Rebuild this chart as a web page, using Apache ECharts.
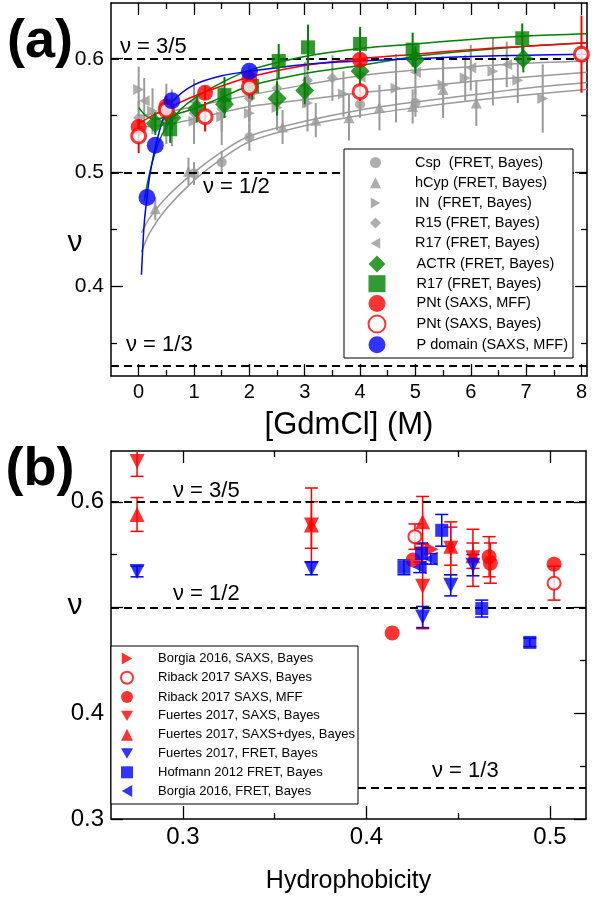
<!DOCTYPE html>
<html><head><meta charset="utf-8">
<script src="https://cdn.jsdelivr.net/npm/echarts@6/dist/echarts.min.js"></script>
<style>html,body{margin:0;padding:0;background:#fff}#c{width:594px;height:900px}</style>
</head><body><div id="c"></div><script>
// ================= Panel (a): [GdmCl] (M) vs nu =================
const aMajorX = [0,1,2,3,4,5,6,7,8];
const aMinorX = [0.5,1.5,2.5,3.5,4.5,5.5,6.5,7.5];
const aMajorY = [0.4,0.5,0.6];
const aMinorY = [0.35,0.45,0.55];
const refLevels = [0.6, 0.5, 1/3];

const cspX = [1.0, 1.5, 2.0, 4.0, 5.0];
const cspY = [0.499, 0.509, 0.531, 0.560, 0.561];
const cspE = [0.010, 0.010, 0.012, 0.012, 0.012];

const hcypX = [0.3, 0.9, 2.6, 3.2, 3.8, 4.35, 4.95, 5.5, 6.1];
const hcypY = [0.468, 0.501, 0.540, 0.546, 0.548, 0.557, 0.558, 0.573, 0.561];
const hcypE = [0.010, 0.012, 0.015, 0.015, 0.020, 0.020, 0.015, 0.025, 0.020];

const inX = [0.0, 0.25, 0.6, 1.0, 1.5, 2.0, 2.5, 3.05, 3.7, 4.65, 5.5, 5.9, 6.4, 6.85, 7.3];
const inY = [0.573, 0.554, 0.548, 0.545, 0.549, 0.552, 0.557, 0.561, 0.569, 0.574, 0.577, 0.583, 0.589, 0.581, 0.565];
const inE = [0.020, 0.020, 0.025, 0.020, 0.025, 0.020, 0.020, 0.025, 0.020, 0.030, 0.025, 0.020, 0.030, 0.020, 0.030];

const r15X = [0.0, 0.5, 1.0, 1.5, 2.0, 2.5, 3.05, 3.5, 4.0];
const r15Y = [0.548, 0.545, 0.552, 0.556, 0.565, 0.574, 0.581, 0.583, 0.586];
const r15E = [0.015, 0.020, 0.020, 0.020, 0.020, 0.020, 0.020, 0.020, 0.020];

const r17gX = [0.1, 0.5, 1.0, 2.0, 3.0, 4.0, 5.0, 6.0, 6.65];
const r17gY = [0.563, 0.558, 0.562, 0.569, 0.577, 0.584, 0.588, 0.592, 0.595];
const r17gE = [0.020, 0.020, 0.020, 0.025, 0.020, 0.020, 0.020, 0.020, 0.020];

const actrX = [0.3, 0.6, 1.05, 1.55, 2.5, 3.0, 4.0, 5.0, 6.95];
const actrY = [0.543, 0.548, 0.556, 0.560, 0.565, 0.572, 0.589, 0.599, 0.600];
const actrE = [0.010, 0.010, 0.012, 0.012, 0.015, 0.012, 0.012, 0.012, 0.012];

const r17X = [0.57, 1.55, 2.05, 2.53, 3.06, 4.0, 4.95, 6.93];
const r17Y = [0.538, 0.568, 0.576, 0.598, 0.610, 0.613, 0.608, 0.618];
const r17E = [0.012, 0.016, 0.012, 0.015, 0.020, 0.015, 0.015, 0.013];

const pntMX = [0.0, 0.5, 1.2, 2.0, 4.0];
const pntMY = [0.540, 0.558, 0.570, 0.582, 0.599];
const pntME = [0.006, 0.006, 0.006, 0.006, 0.006];

const pntBX = [0.0, 0.5, 1.2, 2.0, 4.0, 8.0];
const pntBY = [0.532, 0.555, 0.549, 0.575, 0.571, 0.604];
const pntBE = [0.015, 0.012, 0.013, 0.010, 0.008, 0.034];

const pdX = [0.15, 0.3, 0.6, 2.0];
const pdY = [0.478, 0.524, 0.563, 0.589];

// fit curves
const fitG1X = [0, 0.5, 1, 2, 3, 4, 5, 6, 7, 8.1];
const fitG1Y = [0.550, 0.553, 0.558, 0.568, 0.577, 0.585, 0.590, 0.593, 0.596, 0.598];
const fitG2X = [0, 0.5, 1, 2, 3, 4, 5, 6, 7, 8.1];
const fitG2Y = [0.540, 0.542, 0.547, 0.558, 0.564, 0.570, 0.575, 0.580, 0.584, 0.588];
const fitG3X = [0.05, 0.2, 0.5, 1, 1.5, 2, 3, 4, 5, 6, 7, 8.1];
const fitG3Y = [0.447, 0.460, 0.478, 0.500, 0.518, 0.532, 0.545, 0.555, 0.562, 0.568, 0.574, 0.579];
const fitG4X = [0.05, 0.2, 0.5, 1, 1.5, 2, 3, 4, 5, 6, 7, 8.1];
const fitG4Y = [0.430, 0.447, 0.468, 0.493, 0.512, 0.527, 0.541, 0.550, 0.557, 0.563, 0.568, 0.573];
const fitR17X = [0.1, 0.2, 0.35, 0.5, 0.75, 1, 1.5, 2, 3, 4, 5, 6, 7, 8.1];
const fitR17Y = [0.475, 0.500, 0.525, 0.540, 0.555, 0.565, 0.579, 0.590, 0.602, 0.609, 0.613, 0.617, 0.620, 0.622];
const fitActrX = [0, 0.15, 0.3, 0.5, 1, 1.5, 2, 3, 4, 5, 6, 7, 8.1];
const fitActrY = [0.557, 0.549, 0.547, 0.549, 0.556, 0.566, 0.576, 0.587, 0.594, 0.602, 0.607, 0.611, 0.614];
const fitPntX = [0, 0.25, 0.5, 1, 1.5, 2, 3, 4, 5, 6, 7, 8.1];
const fitPntY = [0.543, 0.550, 0.556, 0.567, 0.576, 0.584, 0.594, 0.600, 0.604, 0.608, 0.611, 0.614];
const fitPdX = [0.05, 0.1, 0.15, 0.2, 0.3, 0.45, 0.6, 1, 1.5, 2, 3, 4, 5, 6, 7, 8.1];
const fitPdY = [0.410, 0.455, 0.478, 0.497, 0.522, 0.548, 0.562, 0.577, 0.585, 0.589, 0.595, 0.598, 0.600, 0.602, 0.603, 0.604];

// ================= Panel (b): Hydrophobicity vs nu =================
const bMajorX = [0.3, 0.4, 0.5];
const bMinorX = [0.35, 0.45];
const bMajorY = [0.3, 0.4, 0.5, 0.6];
const bLabelY = [0.3, 0.4, 0.6];
const bMinorY = [0.35, 0.45, 0.55];

const bsX = [0.4355]; const bsY = [0.555]; const bsE = [0];
const rbX = [0.4264, 0.5022]; const rbY = [0.567, 0.523]; const rbE = [0.012, 0.016];
const rmX = [0.414, 0.4255, 0.4668, 0.4675, 0.5022]; const rmY = [0.476, 0.545, 0.548, 0.542, 0.541]; const rmE = [0, 0, 0.019, 0.019, 0];
const fsX = [0.275, 0.370, 0.4306, 0.4459, 0.458]; const fsY = [0.638, 0.578, 0.520, 0.556, 0.547]; const fsE = [0.014, 0.035, 0.040, 0.025, 0.027];
const fdX = [0.275, 0.370, 0.4306, 0.4459, 0.458]; const fdY = [0.588, 0.578, 0.581, 0.558, 0.549]; const fdE = [0.016, 0.022, 0.024, 0.018, 0.012];
const ffX = [0.275, 0.370, 0.4306, 0.4459, 0.458]; const ffY = [0.534, 0.537, 0.491, 0.521, 0.540]; const ffE = [0.005, 0.006, 0.010, 0.010, 0.010];
const hoX = [0.4204, 0.430, 0.441, 0.4628, 0.489]; const hoY = [0.538, 0.551, 0.573, 0.499, 0.467]; const hoE = [0.007, 0.010, 0.015, 0.008, 0.004];
const bfX = [0.429, 0.435]; const bfY = [0.538, 0.546]; const bfE = [0.005, 0.005];

// ================= rendering =================
const FONT = 'Liberation Sans, Arial, Helvetica, sans-serif';
const GRAY = '#9a9a9a', GREEN = '#008000', RED = '#ff0000', BLUE = '#0000ff';
const TRI_DOWN = 'path://M0,0L10,0L5,8.66Z';
const TRI_RIGHT = 'path://M0,0L8.66,5L0,10Z';
const TRI_LEFT = 'path://M8.66,0L0,5L8.66,10Z';

const pairs = (xs, ys) => xs.map((x, i) => [x, ys[i]]);

function xAx(grid, min, max, pos, vals, len, labelVals, fs, fmt, name, nameGap, nameFs, line) {
  return {
    gridIndex: grid, type: 'value', min, max, position: pos,
    axisLine: {show: line, onZero: false, lineStyle: {color: '#000', width: 1.5}},
    axisTick: {show: true, inside: true, length: len, customValues: vals, lineStyle: {color: '#000', width: 1.3}},
    axisLabel: labelVals ? {show: true, customValues: labelVals, fontSize: fs, color: '#000', fontFamily: FONT, margin: 6, formatter: fmt} : {show: false},
    splitLine: {show: false}, minorTick: {show: false},
    name: name || '', nameLocation: 'middle', nameGap: nameGap || 0,
    nameTextStyle: {fontSize: nameFs || 12, color: '#000', fontFamily: FONT}
  };
}
function yAx(grid, min, max, pos, vals, len, labelVals, fs, line) {
  return {
    gridIndex: grid, type: 'value', min, max, position: pos,
    axisLine: {show: line, onZero: false, lineStyle: {color: '#000', width: 1.5}},
    axisTick: {show: true, inside: true, length: len, customValues: vals, lineStyle: {color: '#000', width: 1.3}},
    axisLabel: labelVals ? {show: true, customValues: labelVals, fontSize: fs, color: '#000', fontFamily: FONT, margin: 7, formatter: v => v.toFixed(1)} : {show: false},
    splitLine: {show: false}, minorTick: {show: false}
  };
}

function errS(xs, ys, es, color, cap, xi, yi, w, z) {
  return {
    type: 'custom', xAxisIndex: xi, yAxisIndex: yi, silent: true, z, clip: true,
    encode: {x: 0, y: 1},
    data: xs.map((x, i) => [x, ys[i], es[i]]),
    renderItem: (params, api) => {
      const x = api.value(0), y = api.value(1), e = api.value(2);
      if (!e) return {type: 'group', children: []};
      const p1 = api.coord([x, y - e]), p2 = api.coord([x, y + e]);
      const st = {stroke: color, lineWidth: w};
      const ch = [{type: 'line', shape: {x1: p1[0], y1: p1[1], x2: p2[0], y2: p2[1]}, style: st}];
      if (cap > 0) {
        ch.push({type: 'line', shape: {x1: p1[0] - cap, y1: p1[1], x2: p1[0] + cap, y2: p1[1]}, style: st});
        ch.push({type: 'line', shape: {x1: p2[0] - cap, y1: p2[1], x2: p2[0] + cap, y2: p2[1]}, style: st});
      }
      return {type: 'group', children: ch};
    }
  };
}
function sc(name, xs, ys, symbol, size, itemStyle, xi, yi, z) {
  return {type: 'scatter', name, data: pairs(xs, ys), symbol, symbolSize: size, itemStyle, xAxisIndex: xi, yAxisIndex: yi, z, silent: true};
}
function fit(xs, ys, color, z, extra) {
  return Object.assign({type: 'line', data: pairs(xs, ys), xAxisIndex: 0, yAxisIndex: 0, z, silent: true,
    showSymbol: false, symbol: 'none', smooth: 0.3,
    lineStyle: {color, width: 1.5}}, extra || {});
}
const dashML = {
  silent: true, symbol: ['none', 'none'], label: {show: false},
  lineStyle: {color: '#000', width: 2, type: [8, 5]},
  data: refLevels.map(v => ({yAxis: v}))
};

const series = [
  // panel a: gray fits
  fit(fitG1X, fitG1Y, GRAY, 2, {markLine: dashML}),
  fit(fitG2X, fitG2Y, GRAY, 2),
  fit(fitG3X, fitG3Y, GRAY, 2),
  fit(fitG4X, fitG4Y, GRAY, 2),
  errS(cspX, cspY, cspE, GRAY, 0, 0, 0, 2, 3),
  errS(hcypX, hcypY, hcypE, GRAY, 0, 0, 0, 2, 3),
  errS(inX, inY, inE, GRAY, 0, 0, 0, 2, 3),
  errS(r15X, r15Y, r15E, GRAY, 0, 0, 0, 2, 3),
  errS(r17gX, r17gY, r17gE, GRAY, 0, 0, 0, 2, 3),
  sc('Csp  (FRET, Bayes)', cspX, cspY, 'circle', 10, {color: GRAY}, 0, 0, 4),
  sc('hCyp (FRET, Bayes)', hcypX, hcypY, 'triangle', 11, {color: GRAY}, 0, 0, 4),
  sc('IN  (FRET, Bayes)', inX, inY, TRI_RIGHT, 11, {color: GRAY}, 0, 0, 4),
  sc('R15 (FRET, Bayes)', r15X, r15Y, 'diamond', 11, {color: GRAY}, 0, 0, 4),
  sc('R17 (FRET, Bayes)#g', r17gX, r17gY, TRI_LEFT, 11, {color: GRAY}, 0, 0, 4),
  // colored fits
  fit(fitR17X, fitR17Y, GREEN, 5),
  fit(fitActrX, fitActrY, GREEN, 5),
  fit(fitPntX, fitPntY, RED, 5),
  fit(fitPdX, fitPdY, BLUE, 5),
  errS(actrX, actrY, actrE, GREEN, 0, 0, 0, 2, 6),
  errS(r17X, r17Y, r17E, GREEN, 0, 0, 0, 2, 6),
  errS(pntMX, pntMY, pntME, RED, 0, 0, 0, 2, 6),
  errS(pntBX, pntBY, pntBE, RED, 0, 0, 0, 2, 6),
  sc('ACTR (FRET, Bayes)', actrX, actrY, 'diamond', 19, {color: GREEN}, 0, 0, 7),
  sc('R17 (FRET, Bayes)', r17X, r17Y, 'rect', 14, {color: GREEN}, 0, 0, 7),
  sc('PNt (SAXS, MFF)', pntMX, pntMY, 'circle', 16, {color: RED}, 0, 0, 7),
  sc('PNt (SAXS, Bayes)', pntBX, pntBY, 'circle', 14, {color: '#fff', borderColor: RED, borderWidth: 3}, 0, 0, 8),
  sc('P domain (SAXS, MFF)', pdX, pdY, 'circle', 17, {color: BLUE}, 0, 0, 9),

  // panel b
  Object.assign(errS(fsX, fsY, fsE, RED, 6.5, 4, 4, 1.5, 3), {markLine: dashML}),
  errS(fdX, fdY, fdE, RED, 6.5, 4, 4, 1.5, 3),
  errS(rbX, rbY, rbE, RED, 6.5, 4, 4, 1.5, 3),
  errS(rmX, rmY, rmE, RED, 6.5, 4, 4, 1.5, 3),
  errS(ffX, ffY, ffE, BLUE, 6.5, 4, 4, 1.5, 3),
  errS(hoX, hoY, hoE, BLUE, 6.5, 4, 4, 1.5, 3),
  errS(bfX, bfY, bfE, BLUE, 6.5, 4, 4, 1.5, 3),
  sc('Borgia 2016, SAXS, Bayes', bsX, bsY, TRI_RIGHT, 14, {color: RED}, 4, 4, 5),
  sc('Riback 2017 SAXS, Bayes', rbX, rbY, 'circle', 13, {color: '#fff', borderColor: RED, borderWidth: 2}, 4, 4, 5),
  sc('Riback 2017 SAXS, MFF', rmX, rmY, 'circle', 15, {color: RED}, 4, 4, 5),
  sc('Fuertes 2017, SAXS, Bayes', fsX, fsY, TRI_DOWN, 15, {color: RED}, 4, 4, 5),
  sc('Fuertes 2017, SAXS+dyes, Bayes', fdX, fdY, 'triangle', 15, {color: RED}, 4, 4, 5),
  sc('Fuertes 2017, FRET, Bayes', ffX, ffY, TRI_DOWN, 15, {color: BLUE}, 4, 4, 5),
  sc('Hofmann 2012 FRET, Bayes', hoX, hoY, 'rect', 13, {color: BLUE}, 4, 4, 5),
  sc('Borgia 2016, FRET, Bayes', bfX, bfY, TRI_LEFT, 14, {color: BLUE}, 4, 4, 5)
];

const legendBase = {
  orient: 'vertical', selectedMode: false, z: 20, padding: 0,
  textStyle: {color: '#000', fontFamily: FONT}
};
const fmtName = n => n.replace('#g', '');

const option = {
  backgroundColor: '#fff',
  animation: false,
  grid: [
    {left: 111, top: 3, width: 476, height: 373, outerBoundsMode: 'none'},
    {left: 111, top: 451, width: 475, height: 368, outerBoundsMode: 'none'}
  ],
  xAxis: [
    xAx(0, -0.5, 8.1, 'bottom', aMajorX, 12, aMajorX, 20, v => String(v), '[GdmCl] (M)', 34, 31, true),
    xAx(0, -0.5, 8.1, 'bottom', aMinorX, 6, null, 0, null, '', 0, 0, false),
    xAx(0, -0.5, 8.1, 'top', aMajorX, 12, null, 0, null, '', 0, 0, true),
    xAx(0, -0.5, 8.1, 'top', aMinorX, 6, null, 0, null, '', 0, 0, false),
    xAx(1, 0.2608, 0.5196, 'bottom', bMajorX, 13, bMajorX, 24, v => v.toFixed(1), 'Hydrophobicity', 50, 25, true),
    xAx(1, 0.2608, 0.5196, 'bottom', bMinorX, 6, null, 0, null, '', 0, 0, false),
    xAx(1, 0.2608, 0.5196, 'top', bMajorX, 12, null, 0, null, '', 0, 0, true),
    xAx(1, 0.2608, 0.5196, 'top', bMinorX, 6, null, 0, null, '', 0, 0, false)
  ],
  yAxis: [
    yAx(0, 0.321, 0.649, 'left', aMajorY, 12, aMajorY, 21, true),
    yAx(0, 0.321, 0.649, 'left', aMinorY, 6, null, 0, false),
    yAx(0, 0.321, 0.649, 'right', aMajorY, 12, null, 0, true),
    yAx(0, 0.321, 0.649, 'right', aMinorY, 6, null, 0, false),
    yAx(1, 0.3, 0.648, 'left', bMajorY, 12, bLabelY, 24, true),
    yAx(1, 0.3, 0.648, 'left', bMinorY, 6, null, 0, false),
    yAx(1, 0.3, 0.648, 'right', bMajorY, 12, null, 0, true),
    yAx(1, 0.3, 0.648, 'right', bMinorY, 6, null, 0, false)
  ],
  legend: [
    Object.assign({}, legendBase, {
      left: 370, top: 155, itemWidth: 11, itemHeight: 11, itemGap: 5.2,
      formatter: fmtName,
      textStyle: {color: '#000', fontFamily: FONT, fontSize: 14.5, padding: [0, 0, 0, 29]},
      data: ['Csp  (FRET, Bayes)', 'hCyp (FRET, Bayes)', 'IN  (FRET, Bayes)', 'R15 (FRET, Bayes)', 'R17 (FRET, Bayes)#g']
    }),
    Object.assign({}, legendBase, {
      left: 367.5, top: 255.5, itemWidth: 17, itemHeight: 17, itemGap: 2.7,
      textStyle: {color: '#000', fontFamily: FONT, fontSize: 14.5, padding: [0, 0, 0, 26]},
      data: ['ACTR (FRET, Bayes)', 'R17 (FRET, Bayes)', 'PNt (SAXS, MFF)', 'PNt (SAXS, Bayes)', 'P domain (SAXS, MFF)']
    }),
    Object.assign({}, legendBase, {
      left: 120, top: 652, itemWidth: 12, itemHeight: 12, itemGap: 5.8,
      textStyle: {color: '#000', fontFamily: FONT, fontSize: 13, padding: [0, 0, 0, 20]},
      data: ['Borgia 2016, SAXS, Bayes', 'Riback 2017 SAXS, Bayes', 'Riback 2017 SAXS, MFF', 'Fuertes 2017, SAXS, Bayes',
             'Fuertes 2017, SAXS+dyes, Bayes', 'Fuertes 2017, FRET, Bayes', 'Hofmann 2012 FRET, Bayes', 'Borgia 2016, FRET, Bayes']
    })
  ],
  graphic: [
    {type: 'rect', z: 10, shape: {x: 344, y: 149, width: 229, height: 209}, style: {fill: '#fff', stroke: '#000', lineWidth: 1}},
    {type: 'rect', z: 10, shape: {x: 111, y: 646, width: 247, height: 158}, style: {fill: '#fff', stroke: '#000', lineWidth: 1}},
    {type: 'text', z: 30, x: 40, y: 42, style: {text: '(a)', font: 'bold 54px ' + FONT, fill: '#000', textAlign: 'center', textVerticalAlign: 'middle'}},
    {type: 'text', z: 30, x: 40, y: 470, style: {text: '(b)', font: 'bold 54px ' + FONT, fill: '#000', textAlign: 'center', textVerticalAlign: 'middle'}},
    {type: 'text', z: 30, x: 75, y: 243, style: {text: 'ν', font: '30px ' + FONT, fill: '#000', textAlign: 'center', textVerticalAlign: 'middle'}},
    {type: 'text', z: 30, x: 75, y: 606, style: {text: 'ν', font: '30px ' + FONT, fill: '#000', textAlign: 'center', textVerticalAlign: 'middle'}},
    {type: 'text', z: 30, x: 120, y: 47, style: {text: 'ν = 3/5', font: '22px ' + FONT, fill: '#000', textVerticalAlign: 'middle'}},
    {type: 'text', z: 30, x: 203, y: 187, style: {text: 'ν = 1/2', font: '22px ' + FONT, fill: '#000', textVerticalAlign: 'middle'}},
    {type: 'text', z: 30, x: 126, y: 345, style: {text: 'ν = 1/3', font: '22px ' + FONT, fill: '#000', textVerticalAlign: 'middle'}},
    {type: 'text', z: 30, x: 173, y: 491, style: {text: 'ν = 3/5', font: '22px ' + FONT, fill: '#000', textVerticalAlign: 'middle'}},
    {type: 'text', z: 30, x: 173, y: 594, style: {text: 'ν = 1/2', font: '22px ' + FONT, fill: '#000', textVerticalAlign: 'middle'}},
    {type: 'text', z: 30, x: 432, y: 771, style: {text: 'ν = 1/3', font: '22px ' + FONT, fill: '#000', textVerticalAlign: 'middle'}}
  ],
  series
};

const chart = echarts.init(document.getElementById('c'), null, {renderer: 'canvas'});
chart.setOption(option);
</script></body></html>
